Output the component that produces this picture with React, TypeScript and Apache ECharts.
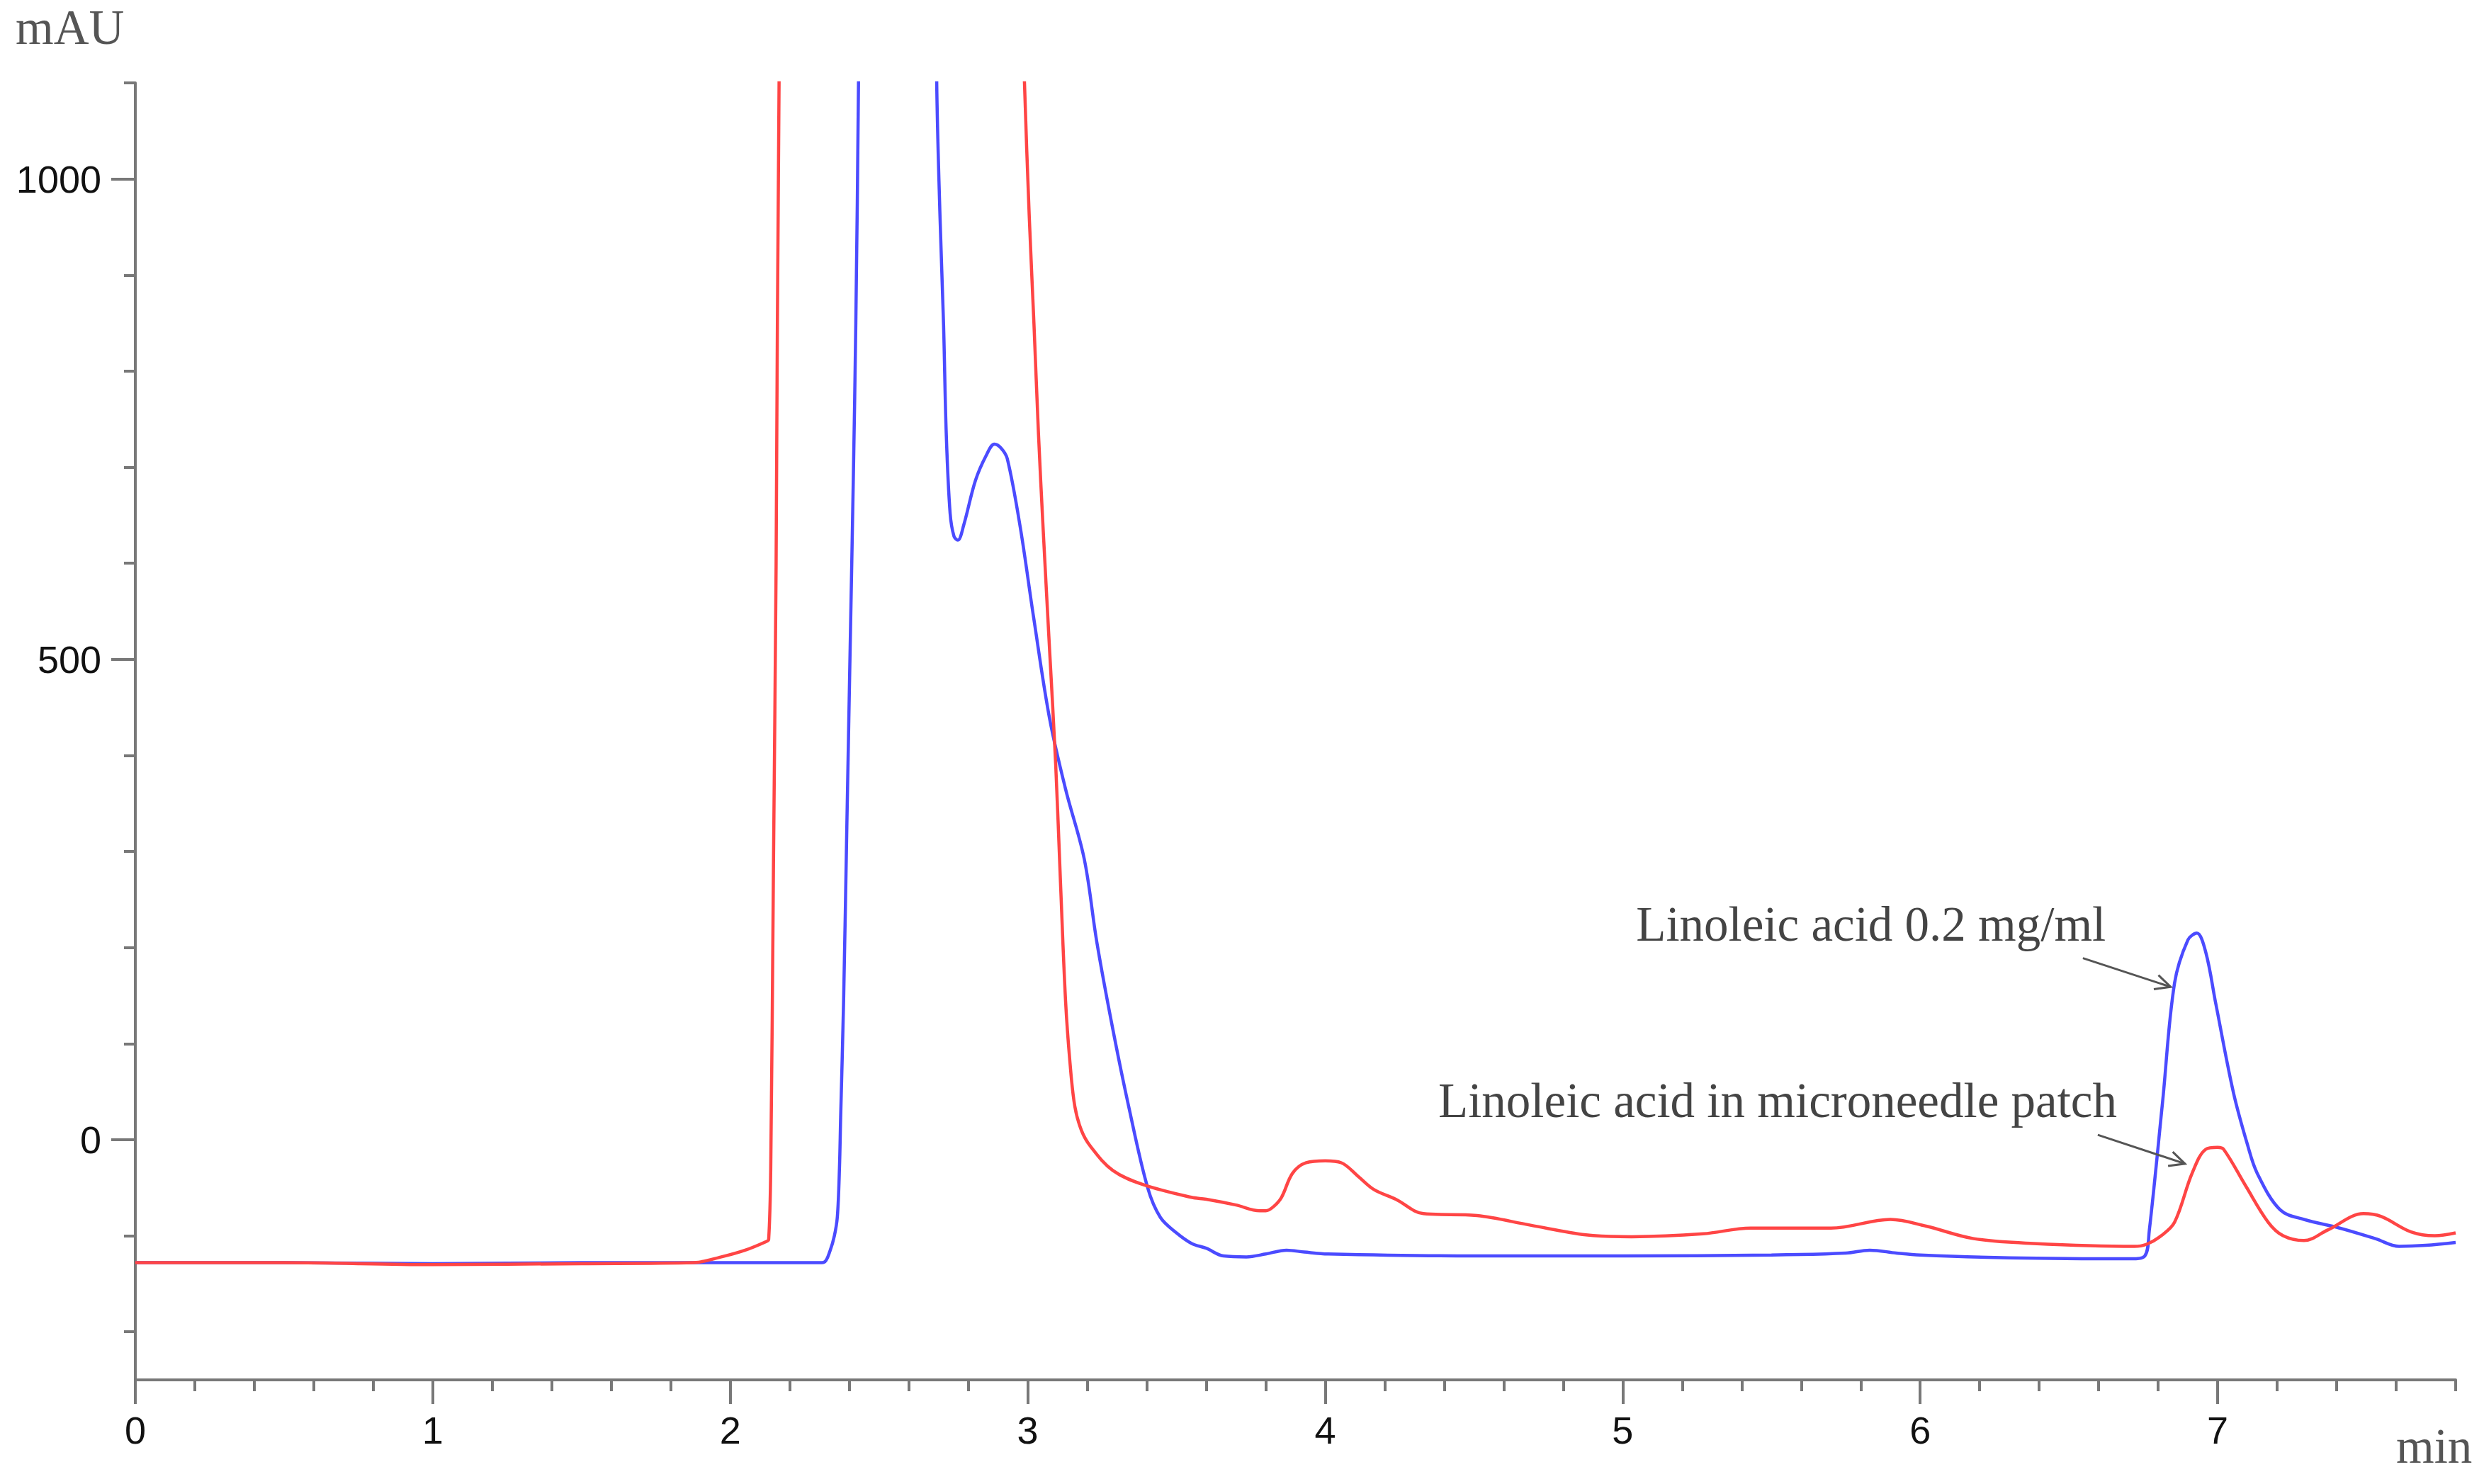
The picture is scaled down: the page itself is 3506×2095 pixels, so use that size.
import React, { useEffect, useRef } from "react";
import * as echarts from "echarts";

// ---- data (retention time in min, signal in mAU) ----
const blueTime = [0, 0.5, 1.0, 1.5, 2.0, 2.3, 2.318, 2.335, 2.35, 2.36, 2.367, 2.371, 2.381, 2.392, 2.403, 2.414, 2.422, 2.431, 2.45, 2.55, 2.68, 2.694, 2.705, 2.717, 2.726, 2.739, 2.752, 2.765, 2.785, 2.824, 2.86, 2.888, 2.91, 2.931, 2.975, 3.02, 3.073, 3.127, 3.19, 3.232, 3.286, 3.339, 3.403, 3.446, 3.5, 3.551, 3.6, 3.658, 3.735, 3.8, 3.87, 3.93, 4.01, 4.5, 5.0, 5.5, 5.75, 5.83, 5.92, 6.0, 6.3, 6.71, 6.755, 6.77, 6.815, 6.855, 6.9, 6.93, 6.96, 6.994, 7.053, 7.1, 7.133, 7.21, 7.29, 7.41, 7.53, 7.61, 7.7, 7.8];
const blueSignal = [-128, -128, -129, -128, -128, -128, -127, -116, -100, -80, -30, 23, 145, 329, 512, 695, 850, 1100, 1900, 2300, 1600, 1100, 961, 848, 735, 652, 628, 624, 640, 686, 712, 724, 720, 709, 637, 543, 439, 365, 292, 206, 115, 35, -50, -81, -97, -108, -113, -121, -122, -119, -115, -117, -119, -121, -121, -120, -118, -115, -118, -120, -123, -124, -121, -95, 40, 163, 208, 215, 195, 141, 49, -5, -35, -73, -83, -92, -103, -111, -110, -107];

const redTime = [0, 0.5, 1.0, 1.5, 1.876, 1.97, 2.05, 2.121, 2.129, 2.136, 2.145, 2.154, 2.164, 2.2, 2.6, 2.95, 2.989, 3.005, 3.021, 3.036, 3.052, 3.073, 3.094, 3.11, 3.127, 3.142, 3.158, 3.18, 3.211, 3.286, 3.39, 3.55, 3.6, 3.7, 3.78, 3.8, 3.825, 3.853, 3.89, 3.936, 4.0, 4.054, 4.11, 4.164, 4.237, 4.33, 4.51, 4.69, 4.876, 5.03, 5.27, 5.43, 5.7, 5.9, 6.02, 6.18, 6.38, 6.72, 6.76, 6.81, 6.855, 6.914, 6.96, 7.0, 7.02, 7.094, 7.17, 7.22, 7.29, 7.37, 7.49, 7.55, 7.65, 7.73, 7.8];
const redSignal = [-128, -128, -130, -129, -128, -122, -115, -106, -104, -30, 280, 597, 1100, 2000, 2600, 1500, 1100, 961, 848, 735, 634, 512, 390, 268, 145, 80, 35, 10, -7, -32, -47, -60, -62, -68, -74, -74, -70, -60, -35, -24, -22, -24, -38, -52, -62, -77, -79, -89, -99, -101, -98, -92, -92, -83, -90, -103, -108, -111, -109, -100, -86, -35, -10, -8, -10, -48, -86, -100, -105, -94, -77, -80, -96, -100, -97];

const xMajorTicks = [0, 1, 2, 3, 4, 5, 6, 7];
const xMinorTicks = [0, 0.2, 0.4, 0.6, 0.8, 1, 1.2, 1.4, 1.6, 1.8, 2, 2.2, 2.4, 2.6, 2.8, 3, 3.2, 3.4, 3.6, 3.8, 4, 4.2, 4.4, 4.6, 4.8, 5, 5.2, 5.4, 5.6, 5.8, 6, 6.2, 6.4, 6.6, 6.8, 7, 7.2, 7.4, 7.6, 7.8];
const yMajorTicks = [0, 500, 1000];
const yMinorTicks = [-200, -100, 0, 100, 200, 300, 400, 500, 600, 700, 800, 900, 1000, 1100];

const blueName = "Linoleic acid 0.2 mg/ml";
const redName = "Linoleic acid in microneedle patch";
const yUnit = "mAU";
const xUnit = "min";

// annotation anchors in data coordinates [time, signal]
const blueLabelAnchor = [5.045, 207];
const redLabelAnchor = [4.38, 23];
const blueArrow = [[6.547, 189], [6.842, 159]];
const redArrow = [[6.597, 5], [6.89, -25]];

const AXIS_GRAY = "#787878";
const SERIF = "'Liberation Serif', 'DejaVu Serif', serif";
const SANS = "'Liberation Sans', Arial, sans-serif";

export default function App() {
  const ref = useRef<HTMLDivElement>(null);

  useEffect(() => {
    if (!ref.current) return;
    const chart = echarts.init(ref.current, undefined, { renderer: "svg" });

    const zip = (xs: number[], ys: number[]) => xs.map((x, i) => [x, ys[i]]);
    const plain = (v: number) => String(v);

    const xAxisBase = {
      type: "value" as const,
      min: 0,
      max: 7.8,
      position: "bottom" as const,
      splitLine: { show: false },
    };
    const yAxisBase = {
      type: "value" as const,
      min: -250,
      max: 1100,
      position: "left" as const,
      splitLine: { show: false },
    };

    chart.setOption({
      animation: false,
      backgroundColor: "#ffffff",
      grid: { left: 191, right: 40, top: 117, bottom: 147, containLabel: false },
      xAxis: [
        {
          ...xAxisBase,
          axisLine: { show: true, onZero: false, lineStyle: { color: AXIS_GRAY, width: 4 } },
          axisTick: { show: true, length: 34, customValues: xMajorTicks, lineStyle: { color: AXIS_GRAY, width: 4 } },
          axisLabel: { show: true, customValues: xMajorTicks, formatter: plain, fontFamily: SANS, fontSize: 54, color: "#111", margin: 44 },
        },
        {
          ...xAxisBase,
          axisLine: { show: false, onZero: false },
          axisTick: { show: true, length: 16, customValues: xMinorTicks, lineStyle: { color: AXIS_GRAY, width: 4 } },
          axisLabel: { show: false },
        },
      ],
      yAxis: [
        {
          ...yAxisBase,
          axisLine: { show: true, onZero: false, lineStyle: { color: AXIS_GRAY, width: 4 } },
          axisTick: { show: true, length: 34, customValues: yMajorTicks, lineStyle: { color: AXIS_GRAY, width: 4 } },
          axisLabel: { show: true, customValues: yMajorTicks, formatter: plain, fontFamily: SANS, fontSize: 54, color: "#111", margin: 48 },
        },
        {
          ...yAxisBase,
          axisLine: { show: false, onZero: false },
          axisTick: { show: true, length: 16, customValues: yMinorTicks, lineStyle: { color: AXIS_GRAY, width: 4 } },
          axisLabel: { show: false },
        },
      ],
      series: [
        {
          name: blueName,
          type: "line",
          xAxisIndex: 0,
          yAxisIndex: 0,
          data: zip(blueTime, blueSignal),
          showSymbol: false,
          smooth: 0.35,
          clip: true,
          lineStyle: { color: "#4b4bff", width: 4.5 },
          z: 2,
        },
        {
          name: redName,
          type: "line",
          xAxisIndex: 0,
          yAxisIndex: 0,
          data: zip(redTime, redSignal),
          showSymbol: false,
          smooth: 0.35,
          clip: true,
          lineStyle: { color: "#ff4545", width: 4.5 },
          z: 3,
        },
      ],
    });

    const px = (p: number[]) => chart.convertToPixel({ xAxisIndex: 0, yAxisIndex: 0 }, p) as number[];
    const fs = 69;
    const central = 0.3375 * fs;

    const arrowGraphic = (seg: number[][]) => {
      const a = px(seg[0]);
      const b = px(seg[1]);
      const ang = Math.atan2(b[1] - a[1], b[0] - a[0]);
      const hl = 24;
      const spread = 0.45;
      const h1 = [b[0] - hl * Math.cos(ang - spread), b[1] - hl * Math.sin(ang - spread)];
      const h2 = [b[0] - hl * Math.cos(ang + spread), b[1] - hl * Math.sin(ang + spread)];
      return [
        { type: "line", shape: { x1: a[0], y1: a[1], x2: b[0], y2: b[1] }, style: { stroke: "#555", lineWidth: 3 }, z: 10 },
        { type: "polyline", shape: { points: [h1, b, h2] }, style: { stroke: "#555", lineWidth: 3, fill: null }, z: 10 },
      ];
    };

    const bl = px(blueLabelAnchor);
    const rl = px(redLabelAnchor);

    chart.setOption({
      graphic: [
        {
          type: "text",
          x: 22,
          y: 62 - central,
          style: { text: yUnit, font: `${fs}px ${SERIF}`, fill: "#555", textAlign: "left", textVerticalAlign: "middle" },
        },
        {
          type: "text",
          x: 3382,
          y: 2065 - central,
          style: { text: xUnit, font: `${fs}px ${SERIF}`, fill: "#555", textAlign: "left", textVerticalAlign: "middle" },
        },
        {
          type: "text",
          x: bl[0],
          y: bl[1] - central,
          style: { text: blueName, font: `${fs}px ${SERIF}`, fill: "#444", textAlign: "left", textVerticalAlign: "middle" },
          z: 10,
        },
        {
          type: "text",
          x: rl[0],
          y: rl[1] - central,
          style: { text: redName, font: `${fs}px ${SERIF}`, fill: "#444", textAlign: "left", textVerticalAlign: "middle" },
          z: 10,
        },
        ...arrowGraphic(blueArrow),
        ...arrowGraphic(redArrow),
      ],
    });

    return () => chart.dispose();
  }, []);

  return (
    <div
      ref={ref}
      style={{ position: "fixed", left: 0, top: 0, width: 3506, height: 2095, background: "#fff" }}
    />
  );
}
